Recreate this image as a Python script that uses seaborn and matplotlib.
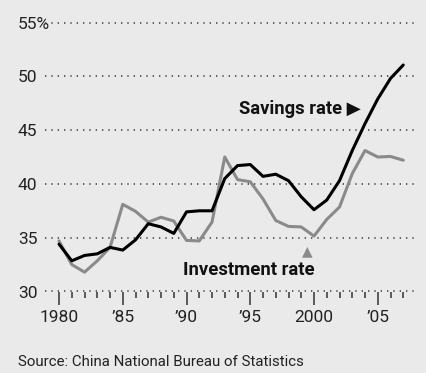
import matplotlib
matplotlib.use('Agg')
import matplotlib.pyplot as plt
import seaborn as sns
import numpy as np

# China: savings vs investment, % of GDP
years = list(range(1980, 2008))
savings = [34.4, 32.85, 33.35, 33.5, 34.1, 33.85, 34.8, 36.3, 36.0, 35.4,
           37.4, 37.5, 37.5, 40.5, 41.7, 41.8, 40.7, 40.9, 40.3, 38.8,
           37.6, 38.5, 40.3, 43.1, 45.6, 47.9, 49.8, 51.05]
investment = [34.7, 32.5, 31.8, 32.85, 34.1, 38.1, 37.45, 36.45, 36.9, 36.55,
              34.75, 34.7, 36.45, 42.5, 40.4, 40.2, 38.6, 36.6, 36.05, 36.0,
              35.15, 36.7, 37.85, 40.95, 43.1, 42.5, 42.55, 42.2]
y_ticks = [30, 35, 40, 45, 50, 55]
y_labels = ['30', '35', '40', '45', '50', '55%']
x_major = [1980, 1985, 1990, 1995, 2000, 2005]
x_labels = ['1980', '\u201985', '\u201990', '\u201995', '2000', '\u201905']

bg = '#eaeaea'
sns.set_theme(style='white')
plt.rcParams['font.family'] = ['Roboto', 'DejaVu Sans']

fig = plt.figure(figsize=(4.26, 3.73), dpi=100, facecolor=bg)
ax = fig.add_axes([45 / 426, 1 - 291.5 / 373, 371 / 426, 269 / 373])
ax.set_facecolor(bg)

# dotted gridlines
for v in y_ticks:
    ax.axhline(v, color='#444444', linestyle=(0, (0.8, 3.0)), lw=1.2,
               clip_on=False, zorder=1)

sns.lineplot(x=years, y=investment, ax=ax, color='#8a8a8a', lw=2.2, zorder=3)
sns.lineplot(x=years, y=savings, ax=ax, color='black', lw=2.2, zorder=4)

ax.set_xlim(1978.9, 2008)
ax.set_ylim(30, 55)
for s in ax.spines.values():
    s.set_visible(False)

ax.set_yticks(y_ticks)
ax.set_yticklabels(y_labels, fontsize=12.5, color='#222222')
for lab in ax.get_yticklabels():
    lab.set_horizontalalignment('left')
ax.tick_params(axis='y', length=0, pad=19.5)

ax.set_xticks(x_major)
ax.set_xticklabels(x_labels, fontsize=12.5, color='#222222')
ax.set_xticks(years, minor=True)
ax.tick_params(axis='x', which='major', direction='out', length=9.5, width=1.1,
               color='#333333', pad=4, bottom=True)
ax.tick_params(axis='x', which='minor', direction='out', length=4, width=1.1,
               color='#333333', bottom=True)
ax.set_xlabel('')
ax.set_ylabel('')

ax.text(1994.1, 47.0, 'Savings rate \u25B6', fontsize=13.2, fontweight='bold',
        ha='left', va='center', color='#111111')
ax.text(1994.9, 32.0, 'Investment rate', fontsize=13.3, fontweight='bold',
        ha='center', va='center', color='#111111')
ax.text(1999.45, 33.75, '\u25B2', fontsize=10, ha='center', va='center',
        color='#8a8a8a', family='DejaVu Sans')

fig.text(18 / 426, 1 - 362 / 373, 'Source: China National Bureau of Statistics',
         fontsize=10.8, ha='left', va='center', color='#222222')

fig.savefig('out.png', dpi=100, facecolor=bg)
